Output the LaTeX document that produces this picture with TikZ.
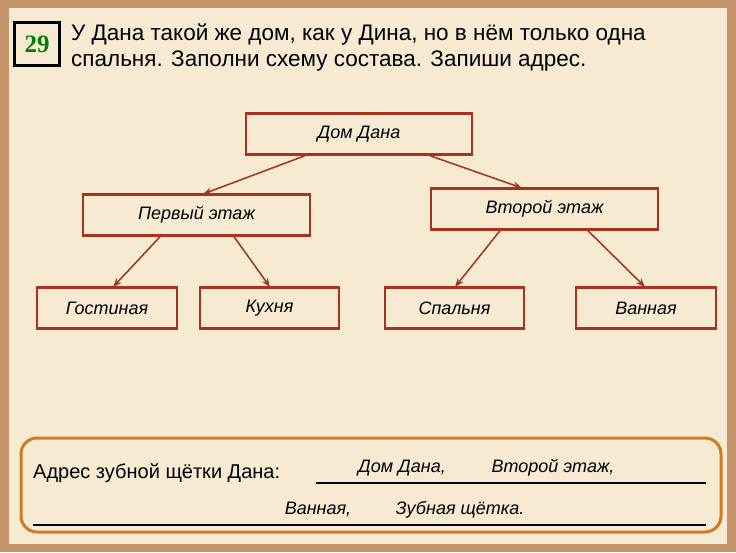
\documentclass[tikz,border=0pt]{standalone}
\usepackage{fontspec}
\usetikzlibrary{arrows.meta}
\setmainfont{Liberation Sans}
\newfontfamily\numfont{Liberation Serif}
\begin{document}
\begin{tikzpicture}[x=1pt,y=-1pt,
  bx/.style={draw=boxred,line width=2.4pt,fill=paper,minimum height=41pt,inner sep=0pt,font=\fontsize{18}{20}\selectfont\itshape},
  ar/.style={draw=arred,line width=1.6pt,-{Stealth[length=9pt,width=7pt]}},
  ans/.style={font=\fontsize{18}{20}\selectfont\itshape,anchor=base}]
\definecolor{frame}{HTML}{C4936A}
\definecolor{paper}{HTML}{F6EBD2}
\definecolor{boxred}{HTML}{A8321E}
\definecolor{arred}{HTML}{A03A20}
\definecolor{orangeb}{HTML}{D27A22}
\useasboundingbox (0,0) rectangle (736,552);
\fill[frame] (0,0) rectangle (736,552);
\fill[paper] (9,8) rectangle (727,544);
\node[draw=black,line width=2.4pt,fill=paper,minimum width=45pt,minimum height=43pt,inner sep=0pt,font=\numfont\fontsize{25}{26}\selectfont\bfseries,text=green!50!black] (num) at (37,44) {29};
\node[anchor=base west,font=\fontsize{22.5}{25}\selectfont,inner sep=0pt] (t1) at (71,40) {У Дана такой же дом, как у Дина, но в нём только одна};
\node[anchor=base west,font=\fontsize{22.5}{25}\selectfont,inner sep=0pt] (t2) at (71,66) {спальня. Заполни схему состава. Запиши адрес.};
\node[bx,minimum width=226pt] (dom) at (359,134) {Дом Дана};
\node[bx,minimum width=227pt] (p1) at (196.5,215) {\raisebox{-4pt}{Первый этаж}};
\node[bx,minimum width=227pt] (p2) at (544.5,209) {\raisebox{-1pt}{Второй этаж}};
\node[bx,minimum width=140pt] (g) at (107,308) {Гостиная};
\node[bx,minimum width=139pt] (k) at (269.5,308) {Кухня};
\node[bx,minimum width=139pt] (s) at (454.5,308) {Спальня};
\node[bx,minimum width=140pt] (v) at (646,308) {Ванная};
\draw[ar] (dom.south -| 305,0) -- (203,194);
\draw[ar] (dom.south -| 430,0) -- (522,188);
\draw[ar] (p1.south -| 160,0) -- (113,287);
\draw[ar] (p1.south -| 234,0) -- (270,287);
\draw[ar] (p2.south -| 500,0) -- (455,287);
\draw[ar] (p2.south -| 588,0) -- (645,287);
\draw[orangeb,line width=3pt,rounded corners=16pt] (21,438) rectangle (721,532);
\node[anchor=base west,font=\fontsize{20}{22}\selectfont,inner sep=0pt] (lab) at (33,478) {Адрес зубной щётки Дана:};
\coordinate (l1a) at (316,483); \coordinate (l1b) at (706,483);
\coordinate (l2a) at (33,525); \coordinate (l2b) at (706,525);
\draw[line width=1.4pt] (l1a) -- (l1b);
\draw[line width=1.4pt] (l2a) -- (l2b);
\node[ans] (a1) at (402,472) {Дом Дана,};
\node[ans] (a2) at (553,472) {Второй этаж,};
\node[ans] (a3) at (318,514) {Ванная,};
\node[ans] (a4) at (460,514) {Зубная щётка.};
\end{tikzpicture}
\end{document}
